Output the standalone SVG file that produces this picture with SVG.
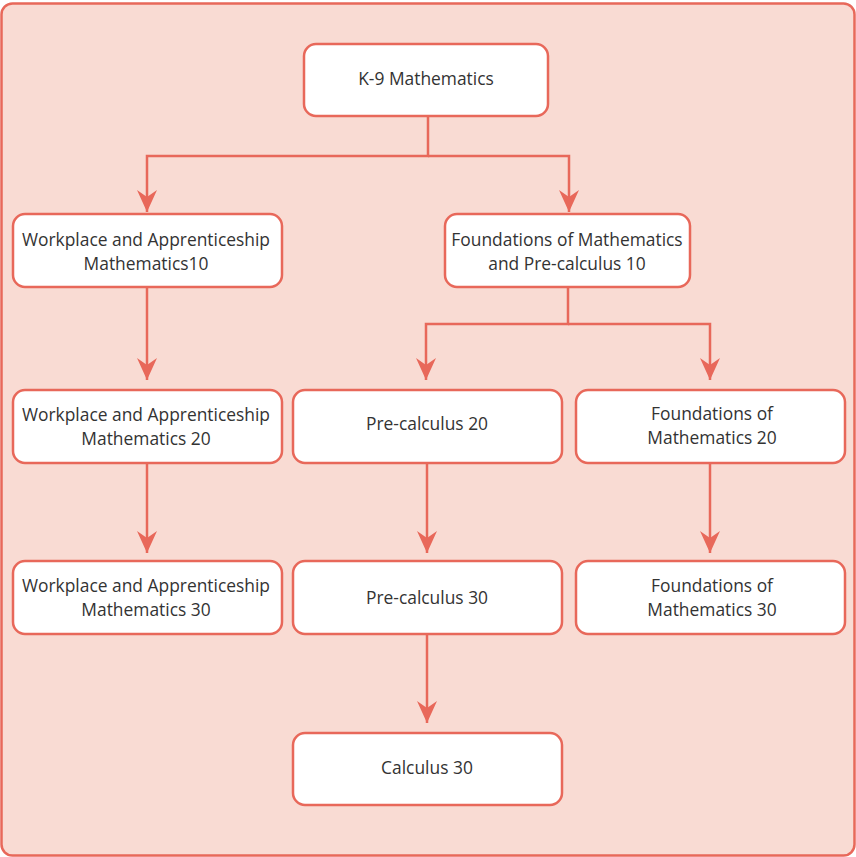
<svg xmlns="http://www.w3.org/2000/svg" width="856" height="857" viewBox="0 0 856 857">
<style>
.box{fill:#FFFFFF;stroke:#E8685A;stroke-width:2.5}
.t{font-family:"Open Sans","Noto Sans",sans-serif;font-size:17.4px;fill:#333333;text-anchor:middle}
.c{fill:none;stroke:#E8685A;stroke-width:2.5}
</style>
<defs>
<marker id="ah" markerUnits="userSpaceOnUse" markerWidth="24" markerHeight="22" viewBox="-22 -11 24 22" refX="0" refY="0" orient="auto">
<path d="M0,0 L-22,-10 L-15,0 L-22,10 Z" fill="#E8685A"/>
</marker>
</defs>
<rect x="1.5" y="3.5" width="853" height="852" rx="11" fill="#F9DBD3" stroke="#E8685A" stroke-width="2.5"/>
<g id="connectors">
<path class="c" d="M428,116 V156 H147 V212" marker-end="url(#ah)"/>
<path class="c" d="M428,156 H569 V212" marker-end="url(#ah)"/>
<path class="c" d="M147,287 V380" marker-end="url(#ah)"/>
<path class="c" d="M568,287 V324 H426 V380" marker-end="url(#ah)"/>
<path class="c" d="M568,324 H710 V380" marker-end="url(#ah)"/>
<path class="c" d="M147,463 V553" marker-end="url(#ah)"/>
<path class="c" d="M427,463 V553" marker-end="url(#ah)"/>
<path class="c" d="M710,463 V553" marker-end="url(#ah)"/>
<path class="c" d="M427,634 V723" marker-end="url(#ah)"/>
</g>
<g id="k9"><rect class="box" x="304" y="44" width="244" height="72" rx="12"/><text class="t" x="426" y="85">K-9 Mathematics</text></g>
<g id="wa10"><rect class="box" x="13" y="214" width="269" height="73" rx="12"/><text class="t" x="146" y="246">Workplace and Apprenticeship</text><text class="t" x="146" y="270">Mathematics10</text></g>
<g id="fpc10"><rect class="box" x="445" y="214" width="245" height="73" rx="12"/><text class="t" x="567" y="246">Foundations of Mathematics</text><text class="t" x="567" y="270">and Pre-calculus 10</text></g>
<g id="wa20"><rect class="box" x="13" y="390" width="269" height="73" rx="12"/><text class="t" x="146" y="421">Workplace and Apprenticeship</text><text class="t" x="146" y="445">Mathematics 20</text></g>
<g id="pc20"><rect class="box" x="293" y="390" width="269" height="73" rx="12"/><text class="t" x="427" y="430">Pre-calculus 20</text></g>
<g id="fm20"><rect class="box" x="576" y="390" width="269" height="73" rx="12"/><text class="t" x="712" y="420">Foundations of</text><text class="t" x="712" y="444">Mathematics 20</text></g>
<g id="wa30"><rect class="box" x="13" y="561" width="269" height="73" rx="12"/><text class="t" x="146" y="592">Workplace and Apprenticeship</text><text class="t" x="146" y="616">Mathematics 30</text></g>
<g id="pc30"><rect class="box" x="293" y="561" width="269" height="73" rx="12"/><text class="t" x="427" y="604">Pre-calculus 30</text></g>
<g id="fm30"><rect class="box" x="576" y="561" width="269" height="73" rx="12"/><text class="t" x="712" y="592">Foundations of</text><text class="t" x="712" y="616">Mathematics 30</text></g>
<g id="calc30"><rect class="box" x="293" y="733" width="269" height="72" rx="12"/><text class="t" x="427" y="774">Calculus 30</text></g>
</svg>
